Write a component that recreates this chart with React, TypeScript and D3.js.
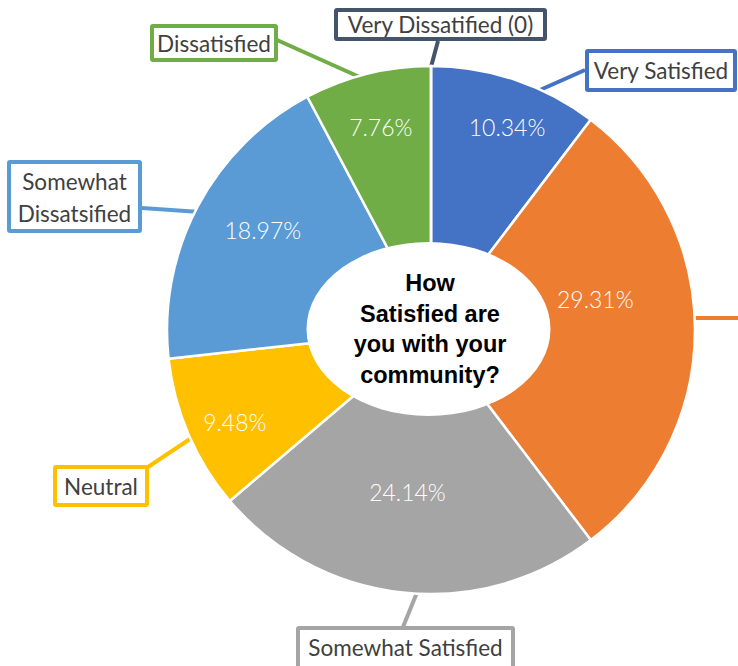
import React from "react";
import * as d3 from "d3";

const categories = ["Very Satisfied", "Satisfied", "Somewhat Satisfied", "Neutral", "Somewhat Dissatisfied", "Dissatisfied", "Very Dissatisfied"];
const percentages = [10.34, 29.31, 24.14, 9.48, 18.97, 7.76, 0];
const colors = ["#4472C4", "#ED7D31", "#A5A5A5", "#FFC000", "#5B9BD5", "#70AD47", "#44546A"];
const calloutLines = [["Very Satisfied"], ["Satisfied"], ["Somewhat Satisfied"], ["Neutral"], ["Somewhat", "Dissatsified"], ["Dissatisfied"], ["Very Dissatified (0)"]];
const centerTitle = ["How", "Satisfied are", "you with your", "community?"];

// layout (annotation placement)
const W = 738, H = 666;
const CX = 431, CY = 330, R = 264;
const ERX = 122, ERY = 87;
// percent-label placement: [angle offset in degrees, radius]
const pctPlacement = [[2, 216], [-10.3, 167], [2, 165], [-2, 217], [2.5, 195], [0, 208], [0, 0]];
// callout boxes: [x, y, w, h], text baselines, leader [x1,y1,x2,y2]
const calloutBoxes = [
  { box: [585, 49, 152, 43], base: [79], leader: [585, 70, 540, 90] },
  { box: [742, 298, 120, 40], base: [326], leader: [690, 318, 745, 318] },
  { box: [296, 626, 219, 46], base: [656], leader: [403, 627, 418, 590] },
  { box: [53, 465, 96, 42], base: [495], leader: [148, 467, 196, 435] },
  { box: [7, 160, 135, 73], base: [190, 222], leader: [142, 208, 200, 212] },
  { box: [150, 24, 128, 38], base: [52], leader: [277, 40, 364, 79] },
  { box: [334, 8, 213, 33], base: [33], leader: [438, 41, 428, 78] },
];

export default function App() {
  const pie = d3.pie<number>().sort(null).value((d) => d)(percentages);
  const arc = d3.arc<d3.PieArcDatum<number>>().innerRadius(0).outerRadius(R);

  return (
    <svg width={W} height={H} style={{ position: "absolute", left: 0, top: 0, display: "block", background: "#fff" }}>
      {calloutBoxes.map((c, i) => (
        <line key={"l" + i} x1={c.leader[0]} y1={c.leader[1]} x2={Math.min(c.leader[2], W)} y2={c.leader[3]}
          stroke={colors[i]} strokeWidth={4} />
      ))}
      <g transform={`translate(${CX},${CY})`}>
        {pie.map((p, i) => (
          <path key={i} d={arc(p) || ""} fill={colors[i]} stroke="#fff" strokeWidth={2.5} strokeLinejoin="round">
            <title>{categories[i]}</title>
          </path>
        ))}
      </g>
      <ellipse cx={428.5} cy={329} rx={ERX} ry={ERY} fill="#fff" />
      {centerTitle.map((t, i) => (
        <text key={"c" + i} x={430} y={291 + i * 30.7} textAnchor="middle"
          fontFamily="Liberation Sans, Arial, sans-serif" fontWeight="bold" fontSize={23.5} fill="#000">{t}</text>
      ))}
      {pie.map((p, i) => {
        if (percentages[i] === 0) return null;
        const mid = (p.startAngle + p.endAngle) / 2 + (pctPlacement[i][0] * Math.PI) / 180;
        const r = pctPlacement[i][1];
        const x = CX + r * Math.sin(mid);
        const y = CY - r * Math.cos(mid);
        return (
          <text key={"p" + i} x={x} y={y} dy="0.35em" textAnchor="middle" fill="#fff"
            fontFamily="Lato, sans-serif" fontWeight={300} fontSize={23}>
            {d3.format(".2f")(percentages[i]) + "%"}
          </text>
        );
      })}
      {calloutBoxes.map((c, i) => {
        const [x, y, w, h] = c.box;
        if (x >= W) return null; // this callout lies outside the visible canvas in the reference
        return (
          <g key={"b" + i}>
            <rect x={x + 2} y={y + 2} width={w - 4} height={h - 4} fill="#fff" stroke={colors[i]} strokeWidth={4} rx={1} />
            {calloutLines[i].map((t, j) => (
              <text key={j} x={x + w / 2} y={c.base[j]} textAnchor="middle" fill="#404040"
                fontFamily="Lato, sans-serif" fontSize={22.5}>{t}</text>
            ))}
          </g>
        );
      })}
    </svg>
  );
}
